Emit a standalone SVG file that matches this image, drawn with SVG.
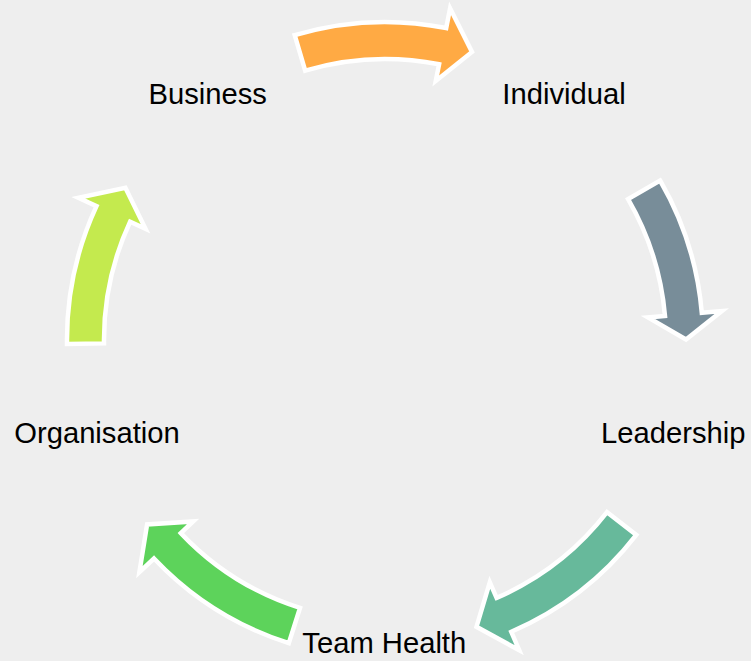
<svg xmlns="http://www.w3.org/2000/svg" width="751" height="661" viewBox="0 0 751 661">
<style>
.arrow{stroke:#FFFFFF;stroke-width:4.5;stroke-linejoin:miter;stroke-miterlimit:10}
.label{font-family:"Liberation Sans",Arial,sans-serif;font-size:29.2px;fill:#000000;text-anchor:middle}
</style>
<rect x="0" y="0" width="751" height="661" fill="#EEEEEE"/>
<g id="connectors">
<path id="arrow-business-individual" class="arrow" fill="#FFAA44" d="M294.7,35.1 A318,318 0 0 1 446.2,28.0 L450.1,8.3 L472.0,51.9 L435.8,80.9 L439.1,64.3 A281,281 0 0 0 305.2,70.6 Z"/>
<path id="arrow-individual-leadership" class="arrow" fill="#788D99" d="M660.1,180.5 A318,318 0 0 1 701.8,312.8 L721.8,311.1 L686.0,339.5 L648.0,317.4 L665.0,316.0 A281,281 0 0 0 628.1,199.1 Z"/>
<path id="arrow-leadership-teamhealth" class="arrow" fill="#67B99B" d="M636.3,534.9 A318,318 0 0 1 511.3,631.8 L519.2,650.2 L476.5,626.8 L489.8,582.3 L496.6,597.9 A281,281 0 0 0 607.0,512.2 Z"/>
<path id="arrow-teamhealth-organisation" class="arrow" fill="#5DD35B" d="M288.8,643.1 A318,318 0 0 1 154.0,558.5 L139.4,572.2 L147.1,524.4 L193.2,521.4 L180.8,533.1 A281,281 0 0 0 300.0,607.9 Z"/>
<path id="arrow-organisation-business" class="arrow" fill="#C4EA4E" d="M67.0,343.9 A318,318 0 0 1 96.5,206.1 L78.4,197.7 L125.4,187.7 L145.5,228.8 L130.1,221.7 A281,281 0 0 0 104.0,343.4 Z"/>
</g>
<g id="node-business"><text class="label" x="207.7" y="104.3">Business</text></g>
<g id="node-individual"><text class="label" x="564" y="104.3">Individual</text></g>
<g id="node-leadership"><text class="label" x="673.3" y="443.3">Leadership</text></g>
<g id="node-teamhealth"><text class="label" x="384.3" y="653.3">Team Health</text></g>
<g id="node-organisation"><text class="label" x="97" y="443.3">Organisation</text></g>
</svg>
